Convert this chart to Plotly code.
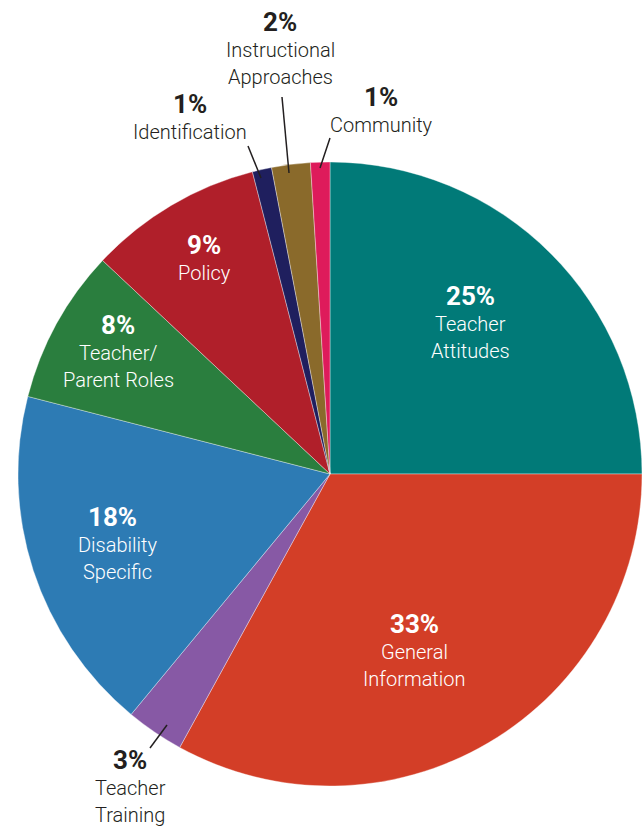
import plotly.graph_objects as go

# ---- data ----
labels = ["Teacher Attitudes", "General Information", "Teacher Training",
          "Disability Specific", "Teacher/ Parent Roles", "Policy",
          "Identification", "Instructional Approaches", "Community"]
label_lines = [["Teacher", "Attitudes"], ["General", "Information"], ["Teacher", "Training"],
               ["Disability", "Specific"], ["Teacher/", "Parent Roles"], ["Policy"],
               ["Identification"], ["Instructional", "Approaches"], ["Community"]]
values = [25, 33, 3, 18, 8, 9, 1, 2, 1]
colors = ["#017A78", "#D33E27", "#8759A5", "#2D7BB4", "#2A7E3E", "#B01F2A",
          "#1F1F5E", "#8A6A2B", "#DE1B5B"]
inside = [True, True, False, True, True, True, False, False, False]

# ---- layout positions (pixels) ----
W, H = 642, 827
label_pos = [(470, 296), (414, 624), (130, 760), (112, 517), (118, 325),
             (204, 245), (190, 104), (280, 22), (381, 97)]
leaders = {2: ((167, 725), (150, 748)),
           6: ((248, 146), (261, 178)),
           7: ((282, 97), (289, 173)),
           8: ((330, 138), (320, 168))}

def px(x, y):
    return x / W, 1 - y / H

fig = go.Figure(go.Pie(
    labels=labels, values=values, sort=False, direction="clockwise", rotation=0,
    marker=dict(colors=colors, line=dict(color="rgba(255,255,255,0.6)", width=0.6)),
    textinfo="none", hoverinfo="label+percent", showlegend=False,
    domain=dict(x=[18 / W, 1], y=[(H - 786) / H, (H - 162) / H]),
))

ann = []
for i, (lab, v) in enumerate(zip(label_lines, values)):
    cx, cy = label_pos[i]
    col = "#ffffff" if inside[i] else "#231f20"
    x, y = px(cx, cy)
    ann.append(dict(x=x, y=y, xref="paper", yref="paper", text=f"<b>{v}%</b>",
                    showarrow=False, xanchor="center", yanchor="middle",
                    font=dict(family="Roboto", size=26, color=col)))
    for j, line in enumerate(lab):
        x, y = px(cx + (0 if i != 3 else 5), cy + 28 + 27 * j)
        ann.append(dict(x=x, y=y, xref="paper", yref="paper", text=line,
                        showarrow=False, xanchor="center", yanchor="middle",
                        font=dict(family="Roboto", size=20, color=col, weight=300)))

shapes = []
for i, ((x0, y0), (x1, y1)) in leaders.items():
    a0, b0 = px(x0, y0)
    a1, b1 = px(x1, y1)
    shapes.append(dict(type="line", xref="paper", yref="paper", x0=a0, y0=b0,
                       x1=a1, y1=b1, line=dict(color="#231f20", width=1.5)))

fig.update_layout(width=W, height=H, margin=dict(l=0, r=0, t=0, b=0),
                  paper_bgcolor="white", plot_bgcolor="white",
                  annotations=ann, shapes=shapes)

fig.write_html("out.html")
